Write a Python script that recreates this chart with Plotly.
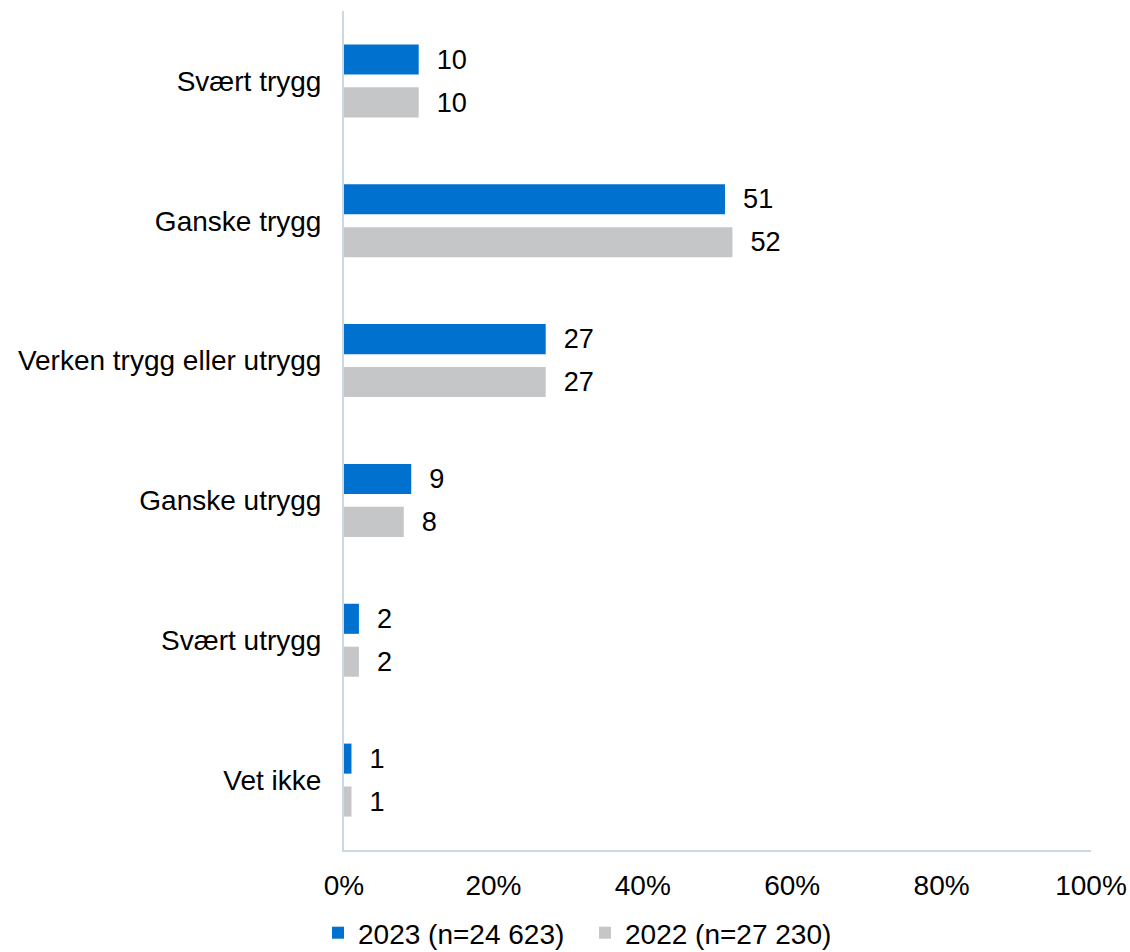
import plotly.graph_objects as go

categories = ["Svært trygg", "Ganske trygg", "Verken trygg eller utrygg",
              "Ganske utrygg", "Svært utrygg", "Vet ikke"]
values_2023 = [10, 51, 27, 9, 2, 1]
values_2022 = [10, 52, 27, 8, 2, 1]
series_names = ["2023 (n=24 623)", "2022 (n=27 230)"]
tick_vals = [0, 20, 40, 60, 80, 100]
tick_text = ["0%", "20%", "40%", "60%", "80%", "100%"]

FONT = "Liberation Sans, Arial, sans-serif"
FS = 28

fig = go.Figure()
fig.add_trace(go.Bar(
    y=categories, x=values_2023, orientation="h", name=series_names[0],
    marker=dict(color="#0071ce", line=dict(width=0)),
    text=values_2023, texttemplate="\u00a0\u00a0%{x}", textposition="outside",
    textfont=dict(size=FS, color="#000000", family=FONT), cliponaxis=False,
))
fig.add_trace(go.Bar(
    y=categories, x=values_2022, orientation="h", name=series_names[1],
    marker=dict(color="#c5c6c8", line=dict(width=0)),
    text=values_2022, texttemplate="\u00a0\u00a0%{x}", textposition="outside",
    textfont=dict(size=FS, color="#000000", family=FONT), cliponaxis=False,
))

fig.update_layout(
    width=1130, height=952,
    margin=dict(l=344, r=39, t=11, b=102, autoexpand=False),
    paper_bgcolor="white", plot_bgcolor="white",
    font=dict(family=FONT, size=FS, color="#000000"),
    barmode="group", bargap=0.386, bargroupgap=0.30,
    xaxis=dict(
        range=[0, 100], tickvals=tick_vals, ticktext=tick_text,
        showgrid=False, zeroline=False, showline=True, automargin=False,
        linecolor="#cdd8e6", linewidth=2, ticks="",
        ticklabelstandoff=9, tickfont=dict(size=FS, color="#000000"),
    ),
    yaxis=dict(
        autorange="reversed", showgrid=False, zeroline=False, showline=True,
        automargin=False,
        linecolor="#cdd8e6", linewidth=2, ticks="",
        ticklabelstandoff=15, tickfont=dict(size=FS, color="#000000"),
    ),
    showlegend=True,
    legend=dict(
        orientation="h", xref="container", yref="container",
        x=585 / 1130, xanchor="center", y=1 - 933 / 952, yanchor="middle",
        font=dict(size=FS, color="#000000"), entrywidth=222,
        traceorder="normal",
    ),
)

fig.write_html("out.html",
               config={"displayModeBar": False},
               post_script="document.body.style.margin='0';document.body.style.padding='0';")
